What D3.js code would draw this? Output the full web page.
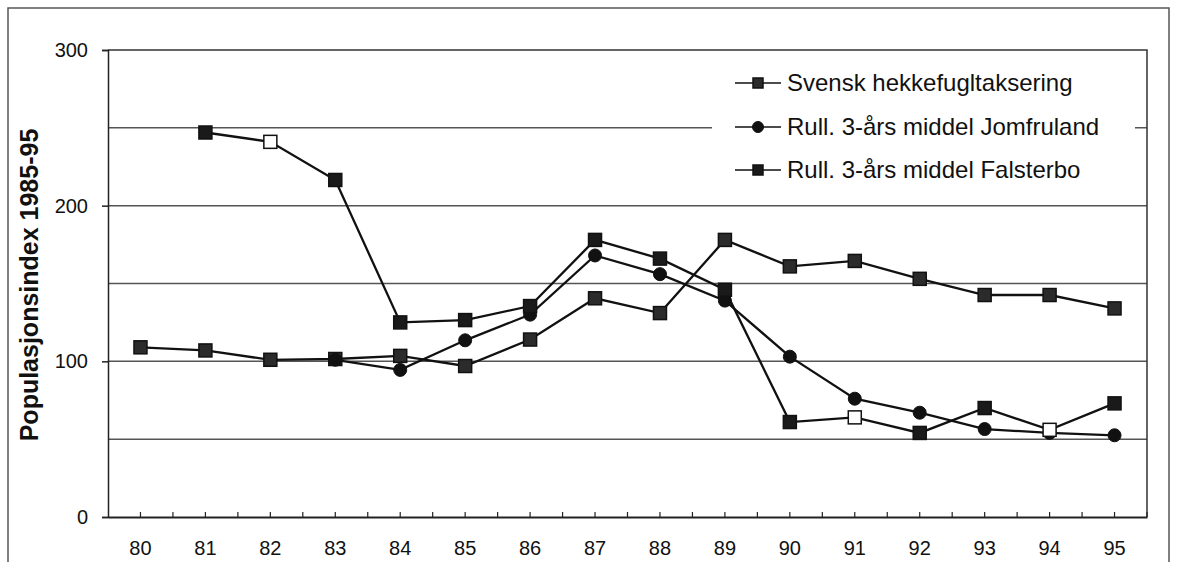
<!DOCTYPE html>
<html>
<head>
<meta charset="utf-8">
<script src="https://cdn.jsdelivr.net/npm/d3@7"></script>
<style>
  html, body { margin: 0; padding: 0; background: #fff; }
  svg { display: block; font-family: "Liberation Sans", Arial, sans-serif; }
</style>
</head>
<body>
<svg id="chart" width="1178" height="562"></svg>
<script>
// ---- data ----
const years = ["80","81","82","83","84","85","86","87","88","89","90","91","92","93","94","95"];
const svensk = [109, 107, 101, 101.5, 103.5, 97, 114, 140.5, 131, 178, 161, 164.5, 153, 142.6, 142.6, 134];
const jomfruland = [null, null, null, 101, 94.5, 113.5, 130, 168, 156, 139, 103, 76, 67, 56.5, 54, 52.5];
const falsterbo = [null, 247, 241, 216.5, 125, 126.5, 135.5, 178, 166, 146, 61, 64, 54, 70, 56, 73];
const falsterboOpen = ["82", "91", "94"];
const seriesNames = ["Svensk hekkefugltaksering", "Rull. 3-års middel Jomfruland", "Rull. 3-års middel Falsterbo"];
const yTicks = [0, 100, 200, 300];
const yGrid = [50, 100, 150, 200, 250];
const yTitle = "Populasjonsindex 1985-95";

// ---- layout ----
const svg = d3.select("#chart");
const plot = { left: 108, right: 1147, top: 50, bottom: 517 };

const x = d3.scaleBand().domain(years).range([plot.left, plot.right]).padding(0);
const y = d3.scaleLinear().domain([0, 300]).range([plot.bottom, plot.top]);
const cx = d => x(d) + x.bandwidth() / 2;

// outer frame
svg.append("rect")
  .attr("x", 8).attr("y", 8).attr("width", 1161).attr("height", 570)
  .attr("fill", "none").attr("stroke", "#555").attr("stroke-width", 1.5);

// gridlines
svg.append("g").selectAll("line").data(yGrid).join("line")
  .attr("x1", plot.left).attr("x2", plot.right)
  .attr("y1", d => y(d)).attr("y2", d => y(d))
  .attr("stroke", "#555").attr("stroke-width", 1.5);

// top & right frame of plot
svg.append("path")
  .attr("d", `M${plot.left},${plot.top}H${plot.right}V${plot.bottom}`)
  .attr("fill", "none").attr("stroke", "#333").attr("stroke-width", 1.5);

// legend background (covers gridline)
const lg = svg.append("g");
lg.append("rect").attr("x", 712).attr("y", 56).attr("width", 423).attr("height", 142).attr("fill", "#fff");

// y axis
const yAxis = svg.append("g").attr("transform", `translate(${plot.left},0)`)
  .call(d3.axisLeft(y).tickValues(yTicks).tickSize(6).tickPadding(14));
yAxis.select(".domain").attr("stroke", "#222").attr("stroke-width", 1.5);
yAxis.selectAll(".tick line").attr("stroke", "#222").attr("stroke-width", 1.5);
yAxis.selectAll(".tick text").attr("font-size", 20).attr("fill", "#111")
  .attr("font-family", "Liberation Sans, Arial, sans-serif");

// x axis
const xAxis = svg.append("g").attr("transform", `translate(0,${plot.bottom})`)
  .call(d3.axisBottom(x).tickSize(0).tickPadding(24));
xAxis.select(".domain").attr("stroke", "#222").attr("stroke-width", 2);
xAxis.selectAll(".tick text").attr("font-size", 20).attr("fill", "#111")
  .attr("font-family", "Liberation Sans, Arial, sans-serif");
// small inward tick marks at centres and boundaries
const tickXs = [];
years.forEach(d => { tickXs.push(cx(d)); tickXs.push(x(d) + x.bandwidth()); });
xAxis.append("g").selectAll("line").data(tickXs).join("line")
  .attr("x1", d => d).attr("x2", d => d).attr("y1", 0).attr("y2", -5)
  .attr("stroke", "#222").attr("stroke-width", 1.2);

// y title
svg.append("text")
  .attr("transform", `translate(38,285) rotate(-90)`)
  .attr("text-anchor", "middle")
  .attr("font-size", 25).attr("font-weight", "bold").attr("fill", "#111")
  .text(yTitle);

// ---- series ----
const line = d3.line().defined(d => d.v != null).x(d => cx(d.k)).y(d => y(d.v));
const toPts = arr => years.map((k, i) => ({ k, v: arr[i] })).filter(d => d.v != null);

const series = [
  { name: seriesNames[0], data: svensk, shape: "square", fill: "#2b2b2b" },
  { name: seriesNames[1], data: jomfruland, shape: "circle", fill: "#111" },
  { name: seriesNames[2], data: falsterbo, shape: "square", fill: "#1a1a1a", open: falsterboOpen }
];

function drawMarker(g, shape, px, py, fill, size) {
  if (shape === "circle") {
    g.append("circle").attr("cx", px).attr("cy", py).attr("r", size / 2)
      .attr("fill", fill).attr("stroke", "#111").attr("stroke-width", 1);
  } else {
    g.append("rect").attr("x", px - size / 2).attr("y", py - size / 2)
      .attr("width", size).attr("height", size)
      .attr("fill", fill).attr("stroke", "#111").attr("stroke-width", 1.5);
  }
}

series.forEach(s => {
  const pts = toPts(s.data);
  svg.append("path").datum(pts).attr("d", line)
    .attr("fill", "none").attr("stroke", "#111").attr("stroke-width", 2.3);
  const g = svg.append("g");
  pts.forEach(p => {
    const isOpen = s.open && s.open.includes(p.k);
    drawMarker(g, s.shape, cx(p.k), y(p.v), isOpen ? "#fff" : s.fill, 13);
  });
});

// ---- legend ----
const legY = [83, 127, 170];
series.forEach((s, i) => {
  const gy = legY[i];
  lg.append("line").attr("x1", 735).attr("x2", 781).attr("y1", gy).attr("y2", gy)
    .attr("stroke", "#111").attr("stroke-width", 1.5);
  drawMarker(lg, s.shape, 758, gy, s.fill, s.shape === "circle" ? 11 : 10);
  lg.append("text").attr("x", 787).attr("y", gy).attr("dy", "0.35em")
    .attr("font-size", 24).attr("fill", "#111").text(s.name);
});
</script>
</body>
</html>
